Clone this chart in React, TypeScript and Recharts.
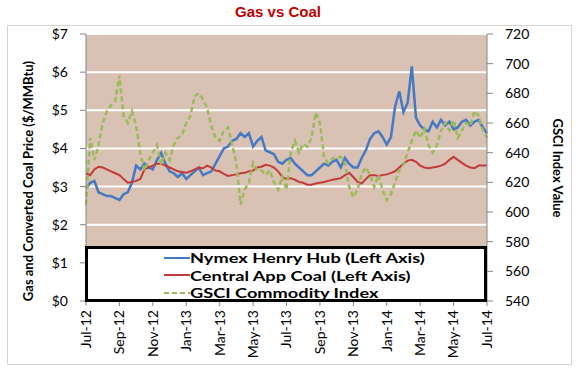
import React from "react";
import {
  ComposedChart,
  Line,
  XAxis,
  YAxis,
  CartesianGrid,
  Legend,
  Label,
} from "recharts";

const FONT = "Lato, 'Noto Sans', sans-serif";

const MONTH_TICKS = [
  "Jul-12", "Sep-12", "Nov-12", "Jan-13", "Mar-13", "May-13", "Jul-13",
  "Sep-13", "Nov-13", "Jan-14", "Mar-14", "May-14", "Jul-14",
];

// roughly weekly samples, Jul-12 .. Jul-14 ($/MMBtu)
const HENRY_HUB = [
  2.95, 3.1, 3.15, 2.85, 2.8, 2.75, 2.75, 2.7, 2.65, 2.8, 2.85, 3.1,
  3.55, 3.45, 3.6, 3.5, 3.45, 3.7, 3.88, 3.6, 3.4, 3.35, 3.25, 3.35,
  3.2, 3.3, 3.4, 3.5, 3.3, 3.35, 3.4, 3.6, 3.8, 4.0, 4.05, 4.2,
  4.25, 4.4, 4.3, 4.4, 4.05, 4.2, 4.3, 3.95, 3.9, 3.85, 3.65, 3.6,
  3.7, 3.75, 3.6, 3.5, 3.4, 3.3, 3.3, 3.4, 3.5, 3.6, 3.55, 3.65,
  3.7, 3.5, 3.75, 3.6, 3.5, 3.5, 3.75, 3.95, 4.25, 4.4, 4.45, 4.3,
  4.1, 4.3, 5.1, 5.5, 4.95, 5.2, 6.15, 4.8, 4.6, 4.5, 4.45, 4.7,
  4.55, 4.75, 4.6, 4.7, 4.5, 4.55, 4.7, 4.75, 4.6, 4.7, 4.75, 4.55,
  4.4,
];

const CENTRAL_APP = [
  3.35, 3.3, 3.45, 3.52, 3.5, 3.45, 3.4, 3.35, 3.3, 3.2, 3.1, 3.12,
  3.15, 3.2, 3.45, 3.5, 3.55, 3.6, 3.6, 3.55, 3.5, 3.45, 3.4, 3.38,
  3.36, 3.4, 3.45, 3.5, 3.48, 3.55, 3.5, 3.42, 3.4, 3.33, 3.28, 3.3,
  3.32, 3.35, 3.36, 3.4, 3.42, 3.5, 3.52, 3.57, 3.55, 3.5, 3.4, 3.25,
  3.2, 3.22, 3.18, 3.12, 3.1, 3.05, 3.05, 3.08, 3.1, 3.12, 3.15, 3.18,
  3.2, 3.22, 3.3, 3.36, 3.25, 3.12, 3.08, 3.2, 3.3, 3.3, 3.28, 3.3,
  3.32, 3.36, 3.4, 3.5, 3.6, 3.68, 3.7, 3.65, 3.55, 3.5, 3.48, 3.5,
  3.52, 3.55, 3.6, 3.7, 3.78, 3.7, 3.62, 3.55, 3.5, 3.48, 3.55, 3.55,
  3.55,
];

const GSCI = [
  605, 650, 635, 645, 660, 668, 672, 675, 692, 665, 660, 668,
  658, 640, 628, 635, 640, 645, 632, 640, 635, 645, 650, 652,
  660, 665, 678, 680, 676, 670, 658, 650, 648, 655, 657, 645,
  633, 605, 615, 620, 633, 628, 628, 625, 628, 620, 615, 624,
  615, 640, 648, 640, 646, 644, 650, 667, 660, 637, 633, 636,
  637, 637, 633, 617, 610, 615, 626, 630, 625, 617, 625, 615,
  608, 612, 620, 628, 632, 640, 648, 655, 650, 656, 645, 640,
  645, 655, 660, 655, 662, 650, 655, 660, 658, 668, 665, 655,
  650,
];

const PRICE_TICKS = [0, 1, 2, 3, 4, 5, 6, 7];
const GSCI_TICKS = [540, 560, 580, 600, 620, 640, 660, 680, 700, 720];
const MONTH_POS = [0, 2, 4, 6, 8, 10, 12, 14, 16, 18, 20, 22, 24];

const STEP = 0.25; // months between samples

const data = HENRY_HUB.map((gas, i) => ({
  t: i * STEP,
  gas,
  coal: CENTRAL_APP[i],
  gsci: GSCI[i],
}));

const LEGEND_ORDER = ["gas", "coal", "gsci"];
const DASH: Record<string, string | undefined> = { gsci: "5 3" };

const DateTick = ({ x, y, payload }: any) => (
  <text
    x={x}
    y={y}
    transform={`rotate(-90, ${x}, ${y})`}
    textAnchor="end"
    dy="0.35em"
    fontSize={14}
    fontFamily={FONT}
    fill="#000"
  >
    {MONTH_TICKS[Math.round(payload.value / 2)]}
  </text>
);

const LegendBox = ({ payload }: any) => {
  const items = [...(payload || [])].sort(
    (a: any, b: any) =>
      LEGEND_ORDER.indexOf(a.dataKey) - LEGEND_ORDER.indexOf(b.dataKey)
  );
  return (
    <div
      style={{
        boxSizing: "border-box",
        width: 402,
        height: 56,
        border: "3px solid #000",
        background: "#fff",
        paddingLeft: 76,
      }}
    >
      {items.map((entry: any) => (
        <div
          key={entry.value}
          style={{ display: "flex", alignItems: "center", height: 17.5 }}
        >
          <svg width={26} height={6} style={{ display: "block" }}>
            <line
              x1={0}
              y1={3}
              x2={26}
              y2={3}
              stroke={entry.color}
              strokeWidth={2}
              strokeDasharray={DASH[entry.dataKey]}
            />
          </svg>
          <span
            style={{
              display: "inline-block",
              fontFamily: FONT,
              fontWeight: 700,
              fontSize: 14,
              color: "#000",
              lineHeight: "17px",
              transform: "scaleX(1.3)",
              transformOrigin: "left center",
              whiteSpace: "nowrap",
            }}
          >
            {entry.value}
          </span>
        </div>
      ))}
    </div>
  );
};

export default function App() {
  return (
    <div
      style={{
        position: "absolute",
        left: 0,
        top: 0,
        width: 580,
        height: 375,
        background: "#fff",
      }}
    >
      <div
        style={{
          position: "absolute",
          left: 7,
          top: 25,
          width: 565,
          height: 340,
          border: "1px solid #D4D4D4",
          boxSizing: "border-box",
        }}
      />
      <div
        style={{
          position: "absolute",
          left: 0,
          top: 3,
          width: 556,
          textAlign: "center",
          fontFamily: "'Liberation Sans', Arial, sans-serif",
          fontWeight: 700,
          fontSize: 15,
          lineHeight: "18px",
          color: "#C00000",
        }}
      >
        Gas vs Coal
      </div>
      <div style={{ position: "absolute", left: 0, top: 0 }}>
        <ComposedChart
          width={580}
          height={375}
          data={data}
          margin={{ top: 34, right: 0, bottom: 0, left: 0 }}
        >
          <CartesianGrid
            yAxisId="left"
            vertical={false}
            stroke="#fff"
            strokeWidth={2}
            fill="#D9C1B4"
            fillOpacity={1}
          />
          <XAxis
            dataKey="t"
            type="number"
            domain={[0, 24]}
            ticks={MONTH_POS}
            interval={0}
            height={74}
            tick={<DateTick />}
            tickSize={5}
            tickMargin={4}
            axisLine={{ stroke: "#868686" }}
            tickLine={{ stroke: "#868686" }}
          />
          <YAxis
            yAxisId="left"
            domain={[0, 7]}
            ticks={PRICE_TICKS}
            interval={0}
            tickFormatter={(v) => `$${v}`}
            width={86}
            tickSize={6}
            tickMargin={12}
            axisLine={{ stroke: "#868686" }}
            tickLine={{ stroke: "#868686" }}
            tick={{ fill: "#000", fontSize: 14, fontFamily: FONT }}
          >
            <Label
              content={() => (
                <text
                  x={28}
                  y={181}
                  transform="rotate(-90, 28, 181)"
                  textAnchor="middle"
                  dominantBaseline="central"
                  fontSize={13}
                  fontWeight={700}
                  fontFamily={FONT}
                  fill="#000"
                >
                  Gas and Converted Coal Price ($/MMBtu)
                </text>
              )}
            />
          </YAxis>
          <YAxis
            yAxisId="right"
            orientation="right"
            domain={[540, 720]}
            ticks={GSCI_TICKS}
            interval={0}
            width={93}
            tickSize={6}
            tickMargin={12}
            axisLine={{ stroke: "#868686" }}
            tickLine={{ stroke: "#868686" }}
            tick={{ fill: "#000", fontSize: 14, fontFamily: FONT }}
          >
            <Label
              content={() => (
                <text
                  x={558}
                  y={168}
                  transform="rotate(90, 558, 168)"
                  textAnchor="middle"
                  dominantBaseline="central"
                  fontSize={13}
                  fontWeight={700}
                  fontFamily={FONT}
                  fill="#000"
                >
                  GSCI Index Value
                </text>
              )}
            />
          </YAxis>
          <Line
            yAxisId="left"
            type="linear"
            dataKey="gas"
            name="Nymex Henry Hub (Left Axis)"
            stroke="#4479C4"
            strokeWidth={2.5}
            dot={false}
            isAnimationActive={false}
          />
          <Line
            yAxisId="left"
            type="linear"
            dataKey="coal"
            name="Central App Coal (Left Axis)"
            stroke="#C4393A"
            strokeWidth={2}
            dot={false}
            isAnimationActive={false}
          />
          <Line
            yAxisId="right"
            type="linear"
            dataKey="gsci"
            name="GSCI Commodity Index"
            stroke="#9BBB59"
            strokeWidth={2.5}
            strokeDasharray="5 3"
            dot={false}
            isAnimationActive={false}
          />
          <Legend
            layout="horizontal"
            verticalAlign="middle"
            align="center"
            wrapperStyle={{ left: 85, top: 246, width: 402, height: 56 }}
            content={<LegendBox />}
          />
        </ComposedChart>
      </div>
    </div>
  );
}
